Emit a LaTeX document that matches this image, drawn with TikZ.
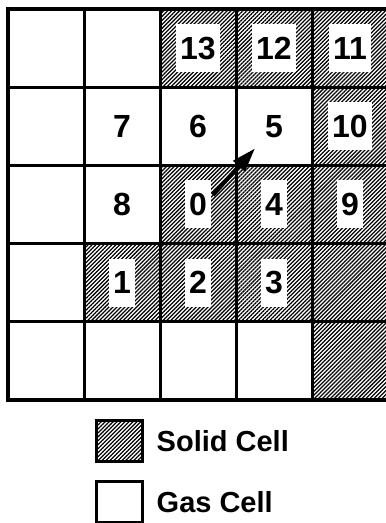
\documentclass[tikz,border=0pt]{standalone}
\usepackage{fontspec}
\setmainfont{Liberation Sans}
\usetikzlibrary{arrows.meta, patterns.meta, positioning}

\tikzset{
  cell/.style={draw, line width=3pt, outer sep=0pt, inner sep=0pt,
               minimum width=76pt, minimum height=78.2pt},
  gas/.style={cell, fill=white},
  solid/.style={cell, pattern={Lines[angle=45, distance=2.8pt, line width=1.25pt]}},
  num/.style={font=\bfseries\fontsize{32}{32}\selectfont,
              inner xsep=4pt, minimum height=48pt},
  numbox/.style={num, fill=white},
  keytext/.style={font=\bfseries\fontsize{29}{29}\selectfont, inner sep=0pt}
}

\begin{document}
\begin{tikzpicture}[x=1pt, y=1pt, >=Stealth]
  \useasboundingbox (0,0) rectangle (386,523);

  % grid cells
  \foreach \r/\c in {1/1,1/2,2/1,2/2,2/3,2/4,3/1,3/2,4/1,5/1,5/2,5/3,5/4}
    \node[gas] (cell-\r-\c) at ({46+76*(\c-1)}, {474.9-78.2*(\r-1)}) {};
  \foreach \r/\c in {1/3,1/4,1/5,2/5,3/3,3/4,3/5,4/2,4/3,4/4,4/5,5/5}
    \node[solid] (cell-\r-\c) at ({46+76*(\c-1)}, {474.9-78.2*(\r-1)}) {};
  \draw[line width=4.5pt] (cell-1-1.north west) rectangle (cell-5-5.south east);

  % cell numbers
  \foreach \r/\c/\lab in {1/3/13, 1/4/12, 1/5/11, 2/5/10, 3/3/0,
                          3/4/4, 3/5/9, 4/2/1, 4/3/2, 4/4/3}
    \node[numbox] (n\lab) at (cell-\r-\c) {\lab};
  \foreach \r/\c/\lab in {2/2/7, 2/3/6, 2/4/5, 3/2/8}
    \node[num] (n\lab) at (cell-\r-\c) {\lab};

  \draw[-{Triangle[length=24pt, width=15pt]}, line width=4pt]
    ([shift={(15pt,9.5pt)}]n0.center) -- ([shift={(19pt,17pt)}]cell-2-4.south west);

  % legend
  \node[solid, minimum width=46pt, minimum height=41pt] (solidkey) at (119.5,82) {};
  \node[keytext, right=14pt of solidkey] (solidlab) {Solid Cell};
  \node[gas, minimum width=46pt, minimum height=41pt] (gaskey) at (119.5,21) {};
  \node[keytext, right=14pt of gaskey] (gaslab) {Gas Cell};
\end{tikzpicture}
\end{document}
